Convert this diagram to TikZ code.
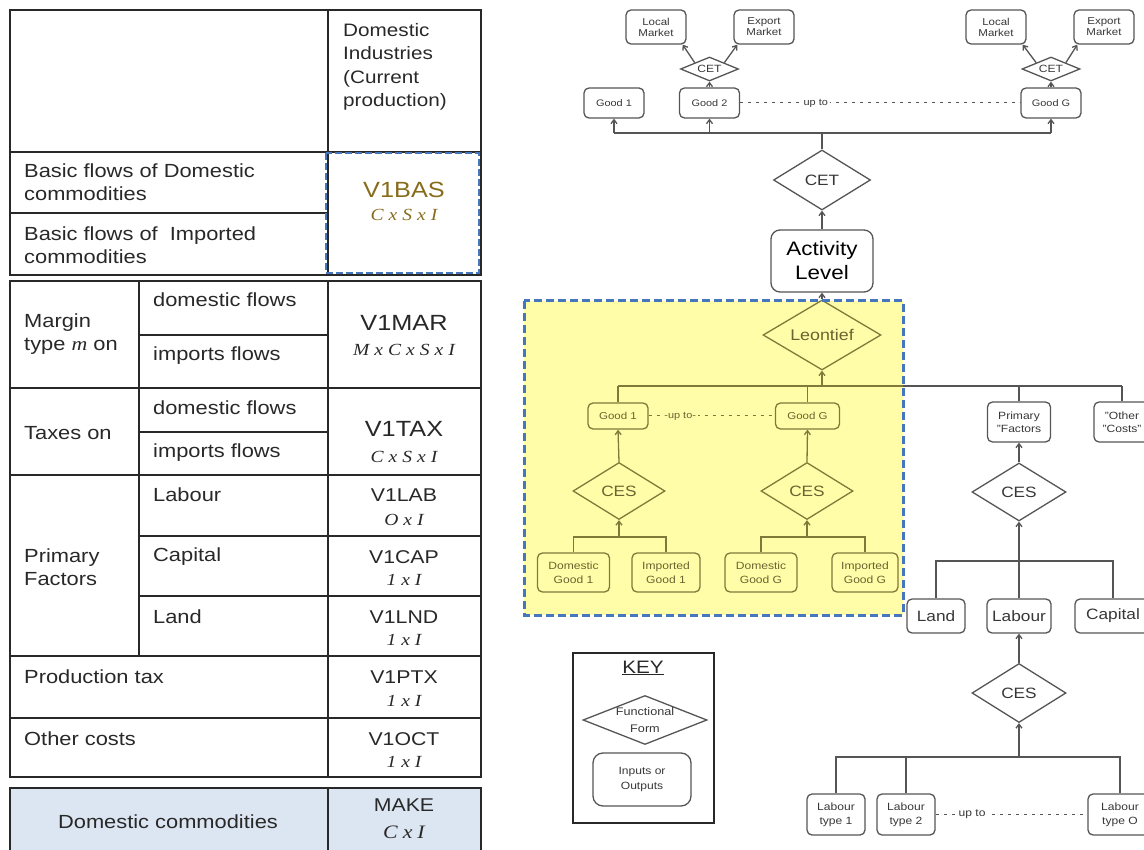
\documentclass[tikz,border=0pt]{standalone}
\usepackage{fontspec}
\setmainfont{Liberation Sans}[FakeStretch=1.15]
\newfontfamily\tnr{Liberation Serif}[FakeStretch=1.15]
\usetikzlibrary{shapes.geometric,arrows.meta,calc}
\definecolor{lc}{RGB}{85,85,85}
\definecolor{tc}{RGB}{55,55,55}
\definecolor{oll}{RGB}{128,122,58}
\definecolor{olt}{RGB}{105,100,48}
\definecolor{yfill}{RGB}{255,253,168}
\definecolor{dblue}{RGB}{70,118,188}
\definecolor{gold}{RGB}{135,108,28}
\definecolor{makeblue}{RGB}{220,230,242}
\definecolor{tabl}{RGB}{40,40,40}
\newcommand\fsz[2]{\fontsize{#1}{#2}\selectfont}
\newcommand\dx{\kern5pt x\kern5pt}
\begin{document}
\begin{tikzpicture}[x=1pt,y=-1pt,
  tl/.style={draw=tabl,line width=1.6pt},
  ttxt/.style={anchor=west,inner sep=0pt,align=left,text=tabl,font=\fsz{19}{23}},
  vtxt/.style={inner sep=0pt,text=tabl,font=\fsz{18.5}{22}},
  dtxt/.style={inner sep=0pt,text=tabl,font=\tnr\itshape\fsz{17}{18}},
  rbox/.style={draw=lc,rounded corners=5pt,line width=1.3pt,inner sep=1pt,align=center,text=tc},
  dmd/.style={diamond,draw=lc,line width=1.3pt,inner sep=0pt,text=tc,align=center},
  ln/.style={draw=lc,line width=1.3pt},
  arr/.style={draw=lc,line width=1.3pt,-{Straight Barb[length=4pt,width=6pt]}},
  oln/.style={draw=oll,line width=1.3pt},
  oarr/.style={draw=oll,line width=1.3pt,-{Straight Barb[length=4pt,width=6pt]}},
  obox/.style={draw=oll,rounded corners=5pt,line width=1.3pt,inner sep=1pt,align=center,text=olt},
  odmd/.style={diamond,draw=oll,line width=1.3pt,inner sep=0pt,text=olt,align=center},
  upto/.style={draw=lc,line width=1pt,dash pattern=on 3pt off 5pt},
]
\useasboundingbox (0,0) rectangle (1144,850);
% ================= LEFT TABLE =================
\draw[tl] (10,10) rectangle (481,275);
\draw[tl] (328,10) -- (328,275);
\draw[tl] (10,152) -- (481,152);
\draw[tl] (10,213) -- (328,213);
\draw[tl] (10,281) rectangle (481,777);
\draw[tl] (328,281) -- (328,777);
\draw[tl] (139,281) -- (139,656);
\foreach \yy in {388,475,656,718} \draw[tl] (10,\yy) -- (481,\yy);
\draw[tl] (139,335) -- (328,335);
\draw[tl] (139,432) -- (328,432);
\draw[tl] (139,536) -- (481,536);
\draw[tl] (139,596) -- (481,596);
\draw[tl,fill=makeblue] (10,788) rectangle (481,864);
\draw[tl] (328,788) -- (328,864);
\draw[draw=dblue,line width=2.5pt,dash pattern=on 7pt off 3pt] (326,153) rectangle (479,273);

\node[ttxt,anchor=north west,font=\fsz{18}{23.5}] (hdr) at (343,23) {Domestic\\Industries\\(Current\\production)};
\node[ttxt] (bfd) at (24,182.5) {Basic flows of Domestic\\commodities};
\node[ttxt] (bfi) at (24,245.5) {Basic flows of \ Imported\\commodities};
\node[vtxt,text=gold,font=\fsz{22}{24}] (v1bas) at (404,190) {V1BAS};
\node[dtxt,text=gold] (d1) at (404,215) {C\dx S\dx I};
\node[ttxt] (mar) at (24,334) {Margin\\type {\tnr\itshape m} on};
\node[ttxt] (mdf) at (153,300) {domestic flows};
\node[ttxt] (mif) at (153,356) {imports flows};
\node[vtxt,font=\fsz{22}{24}] (v1mar) at (404,323) {V1MAR};
\node[dtxt] (d2) at (404,350) {M\dx C\dx S\dx I};
\node[ttxt] (tax) at (24,433) {Taxes on};
\node[ttxt] (tdf) at (153,408) {domestic flows};
\node[ttxt] (tif) at (153,453) {imports flows};
\node[vtxt,font=\fsz{22}{24}] (v1tax) at (404,429) {V1TAX};
\node[dtxt] (d3) at (404,457) {C\dx S\dx I};
\node[ttxt] (pfac) at (24,567.5) {Primary\\Factors};
\node[ttxt] (lab) at (153,495) {Labour};
\node[ttxt] (cap) at (153,557) {Capital};
\node[ttxt] (lnd) at (153,617) {Land};
\node[vtxt] (v1lab) at (404,495) {V1LAB};
\node[dtxt] (d4) at (404,520) {O\dx I};
\node[vtxt] (v1cap) at (404,557) {V1CAP};
\node[dtxt] (d5) at (404,580) {1\dx I};
\node[vtxt] (v1lnd) at (404,617) {V1LND};
\node[dtxt] (d6) at (404,640) {1\dx I};
\node[ttxt] (ptx) at (24,677) {Production tax};
\node[vtxt] (v1ptx) at (404,677) {V1PTX};
\node[dtxt] (d7) at (404,701) {1\dx I};
\node[ttxt] (oct) at (24,739) {Other costs};
\node[vtxt] (v1oct) at (404,739) {V1OCT};
\node[dtxt] (d8) at (404,762) {1\dx I};
\node[vtxt,font=\fsz{19}{22}] (dcom) at (168,822) {Domestic commodities};
\node[vtxt] (make) at (404,805) {MAKE};
\node[dtxt,font=\tnr\itshape\fsz{19}{20}] (d9) at (404,832) {C\dx I};

% ================= RIGHT DIAGRAM =================
% top level
\node[rbox,font=\fsz{10}{11},minimum width=60pt,minimum height=34pt] (lm1) at (656,27) {Local\\Market};
\node[rbox,font=\fsz{10}{11},minimum width=60pt,minimum height=34pt] (em1) at (764,27) {Export\\Market};
\node[dmd,font=\fsz{10.5}{11},minimum width=58pt,minimum height=24pt,aspect=2.5] (cet1) at (709.5,69) {CET};
\node[rbox,font=\fsz{10}{11},minimum width=60pt,minimum height=34pt] (lm2) at (996,27) {Local\\Market};
\node[rbox,font=\fsz{10}{11},minimum width=60pt,minimum height=34pt] (em2) at (1104,27) {Export\\Market};
\node[dmd,font=\fsz{10.5}{11},minimum width=58pt,minimum height=24pt,aspect=2.5] (cet2) at (1051,69) {CET};
\node[rbox,font=\fsz{9.5}{11},minimum width=60pt,minimum height=30pt] (g1) at (614,103) {Good 1};
\node[rbox,font=\fsz{9.5}{11},minimum width=60pt,minimum height=30pt] (g2) at (709.5,103) {Good 2};
\node[rbox,font=\fsz{9.5}{11},minimum width=60pt,minimum height=30pt] (gG) at (1051,103) {Good G};
\draw[arr] (cet1.north west) -- ([xshift=-4pt]lm1.south east);
\draw[arr] (cet1.north east) -- ([xshift=4pt]em1.south west);
\draw[arr] (cet2.north west) -- ([xshift=-4pt]lm2.south east);
\draw[arr] (cet2.north east) -- ([xshift=4pt]em2.south west);
\draw[arr] (g2.north) -- (cet1.south);
\draw[arr] (gG.north) -- (cet2.south);
\draw[upto] (g2.east) -- node[pos=0.27,fill=white,inner sep=2pt,text=tc,font=\fsz{9.5}{11}] (ut1) {up to} (gG.west);

\node[dmd,font=\fsz{15}{17},minimum width=97pt,minimum height=60pt,aspect=1.6] (cetB) at (822,180) {CET};
\node[rbox,font=\fsz{19.5}{24},minimum width=102pt,minimum height=62pt,rounded corners=9pt,text=black] (act) at (822,261) {Activity\\Level};
\coordinate (busT) at (822,133);
\draw[ln] (g1.south |- busT) -- (gG.south |- busT);
\draw[arr] (g1.south |- busT) -- (g1.south);
\draw[arr] (g2.south |- busT) -- (g2.south);
\draw[arr] (gG.south |- busT) -- (gG.south);
\draw[ln] (busT) -- (cetB.north);
\draw[arr] (act.north) -- (cetB.south);

% yellow region
\fill[yfill] (524,301) rectangle (903,615);
\node[odmd,font=\fsz{15.5}{17},minimum width=118pt,minimum height=70pt,aspect=1.7] (leo) at (822,335) {Leontief};
\draw[arr] (leo.north) -- (act.south);
\coordinate (busL) at (822,386);
\node[obox,font=\fsz{10}{11},minimum width=60pt,minimum height=26pt] (g1y) at (618,416) {Good 1};
\node[obox,font=\fsz{10}{11},minimum width=64pt,minimum height=26pt] (gGy) at (807.5,416) {Good G};
\node[odmd,font=\fsz{15}{17},minimum width=92pt,minimum height=57pt,aspect=1.6] (ces1) at (619,491) {CES};
\node[odmd,font=\fsz{15}{17},minimum width=92pt,minimum height=57pt,aspect=1.6] (ces2) at (807,491) {CES};
\node[obox,font=\fsz{10.5}{14},minimum width=72pt,minimum height=39pt] (dg1) at (573.5,572.5) {Domestic\\Good 1};
\node[obox,font=\fsz{10.5}{14},minimum width=68pt,minimum height=39pt] (ig1) at (666,572.5) {Imported\\Good 1};
\node[obox,font=\fsz{10.5}{14},minimum width=72pt,minimum height=39pt] (dgG) at (761,572.5) {Domestic\\Good G};
\node[obox,font=\fsz{10.5}{14},minimum width=66pt,minimum height=39pt] (igG) at (865,572.5) {Imported\\Good G};
\draw[oln] (g1y.north |- busL) -- (903,386);
\draw[oln] (g1y.north) -- (g1y.north |- busL);
\draw[oln] (gGy.north) -- (gGy.north |- busL);
\draw[oarr] (busL) -- (leo.south);
\draw[oarr] (ces1.north) -- (g1y.south);
\draw[oarr] (ces2.north) -- (gGy.south);
\coordinate (busC1) at (619,537);
\coordinate (busC2) at (807,537);
\draw[oln] (dg1.north) |- (ig1.north |- busC1) -- (ig1.north);
\draw[oln] (dgG.north) |- (igG.north |- busC2) -- (igG.north);
\draw[oarr] (busC1) -- (ces1.south);
\draw[oarr] (busC2) -- (ces2.south);
\draw[draw=oll,line width=1pt,dash pattern=on 3pt off 5pt] (g1y.east) -- node[pos=0.25,fill=yfill,inner sep=2pt,text=olt,font=\fsz{9.5}{11}] (ut2) {-up to-} (gGy.west);
\draw[draw=dblue,line width=3pt,dash pattern=on 8pt off 4pt] (524,301) rectangle (903,615);

% right column
\node[rbox,font=\fsz{10.5}{13},minimum width=63pt,minimum height=40pt] (pf) at (1019,422) {Primary\\"Factors};
\node[rbox,font=\fsz{10.5}{13},minimum width=56pt,minimum height=40pt] (oc) at (1122,422) {"Other\\"Costs"};
\draw[ln] (903,386) -- (oc.north |- busL);
\draw[ln] (pf.north) -- (pf.north |- busL);
\draw[ln] (oc.north) -- (oc.north |- busL);
\node[dmd,font=\fsz{15}{17},minimum width=94pt,minimum height=58pt,aspect=1.6] (ces3) at (1019,492) {CES};
\draw[arr] (ces3.north) -- (pf.south);
\node[rbox,font=\fsz{15}{17},minimum width=58pt,minimum height=34pt] (land) at (936,616) {Land};
\node[rbox,font=\fsz{15}{17},minimum width=64pt,minimum height=34pt] (labr) at (1019,616) {Labour};
\node[rbox,font=\fsz{15}{17},minimum width=76pt,minimum height=34pt] (capl) at (1113,616) {Capital};
\coordinate (busF) at (1019,561);
\draw[ln] (land.north) |- (capl.north |- busF) -- (capl.north);
\draw[arr] (labr.north) -- (ces3.south);
\node[dmd,font=\fsz{15}{17},minimum width=94pt,minimum height=59pt,aspect=1.6] (ces4) at (1019,693) {CES};
\draw[arr] (ces4.north) -- (labr.south);
\node[rbox,font=\fsz{10.5}{14},minimum width=58pt,minimum height=41pt] (lt1) at (836,814.5) {Labour\\type 1};
\node[rbox,font=\fsz{10.5}{14},minimum width=58pt,minimum height=41pt] (lt2) at (906,814.5) {Labour\\type 2};
\node[rbox,font=\fsz{10.5}{14},minimum width=64pt,minimum height=41pt] (ltO) at (1120,814.5) {Labour\\type O};
\coordinate (busB) at (1019,757);
\draw[ln] (lt1.north) |- (ltO.north |- busB) -- (ltO.north);
\draw[ln] (lt2.north) -- (lt2.north |- busB);
\draw[arr] (busB) -- (ces4.south);
\draw[upto] (lt2.east) -- node[pos=0.24,fill=white,inner sep=2pt,text=tc,font=\fsz{10.5}{12}] (ut3) {up to} (ltO.west);

% KEY
\draw[draw=tabl,line width=1.5pt] (573,653) rectangle (714,823);
\node[inner sep=0pt,text=tabl,font=\fsz{18}{20}] (key) at (643,668) {\underline{KEY}};
\node[dmd,font=\fsz{11}{17},minimum width=124pt,minimum height=49pt,aspect=2.5] (kd) at (645,720) {Functional\\Form};
\node[rbox,font=\fsz{10.5}{15},minimum width=98pt,minimum height=53pt,rounded corners=10pt] (kb) at (642,779.5) {Inputs or\\Outputs};
\end{tikzpicture}
\end{document}
